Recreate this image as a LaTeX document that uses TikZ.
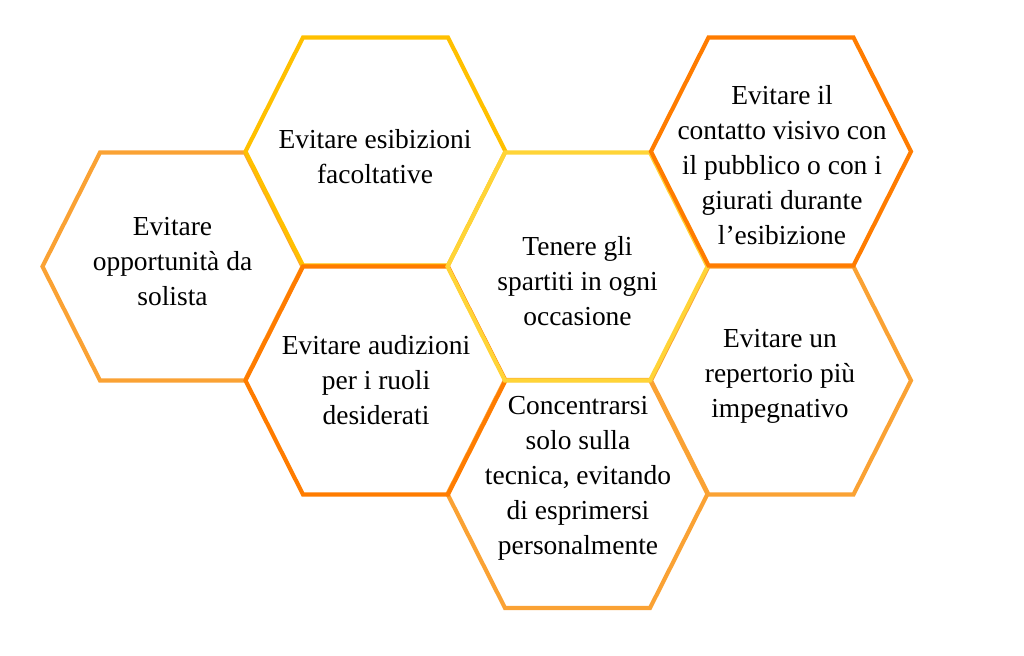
\documentclass[tikz,border=0pt]{standalone}
\usepackage{fontspec}
\setmainfont{Liberation Serif}
\usetikzlibrary{positioning}
\definecolor{honeyLight}{RGB}{250,162,52}
\definecolor{honeyGold}{RGB}{255,192,0}
\definecolor{honeyPale}{RGB}{255,212,55}
\definecolor{honeyDeep}{RGB}{255,124,0}
% one honeycomb cell round a centre
\newcommand\hexcell[2]{%
  \draw[hexline, draw=#1] (#2) +(-130,0) -- +(-72.5,-114) -- +(72.5,-114)
    -- +(130,0) -- +(72.5,114) -- +(-72.5,114) -- cycle;}

\begin{document}
\begin{tikzpicture}[
    x=0.75pt, y=-0.75pt,
    every node/.style={font=\fontsize{20.6pt}{26.25pt}\selectfont},
    hexline/.style={line width=3.1pt, line join=miter},
    celltext/.style={align=center, inner sep=0pt, text=black}
]
\useasboundingbox (0,0) rectangle (1024,656);

\coordinate (c1) at (172.5,266.5);
\coordinate (c2) at (375.5,151.5);
\coordinate (c3) at (577.5,266.5);
\coordinate (c4) at (781,151.5);
\coordinate (c5) at (375.5,380.5);
\coordinate (c6) at (577.5,494);
\coordinate (c7) at (781,380.5);

\hexcell{honeyLight}{c1}
\hexcell{honeyLight}{c6}
\hexcell{honeyLight}{c7}
\hexcell{honeyGold}{c2}
\hexcell{honeyDeep}{c5}
\hexcell{honeyPale}{c3}
\hexcell{honeyDeep}{c4}

\node[celltext] (solo) at (172.5,261.5) {Evitare\\opportunità da\\solista};
\node[celltext] (esib) at (375,157) {Evitare esibizioni\\facoltative};
\node[celltext] (spart) at (577.5,281) {Tenere gli\\spartiti in ogni\\occasione};
\node[celltext] (vista) at (782,165) {Evitare il\\contatto visivo con\\il pubblico o con i\\giurati durante\\l’esibizione};
\node[celltext] (audiz) at (376,380) {Evitare audizioni\\per i ruoli\\desiderati};
\node[celltext] (tecn) at (578,478) {Concentrarsi\\solo sulla\\tecnica, evitando\\di esprimersi\\personalmente};
\node[celltext] (repert) at (780,376) {Evitare un\\repertorio più\\impegnativo};
\end{tikzpicture}
\end{document}
